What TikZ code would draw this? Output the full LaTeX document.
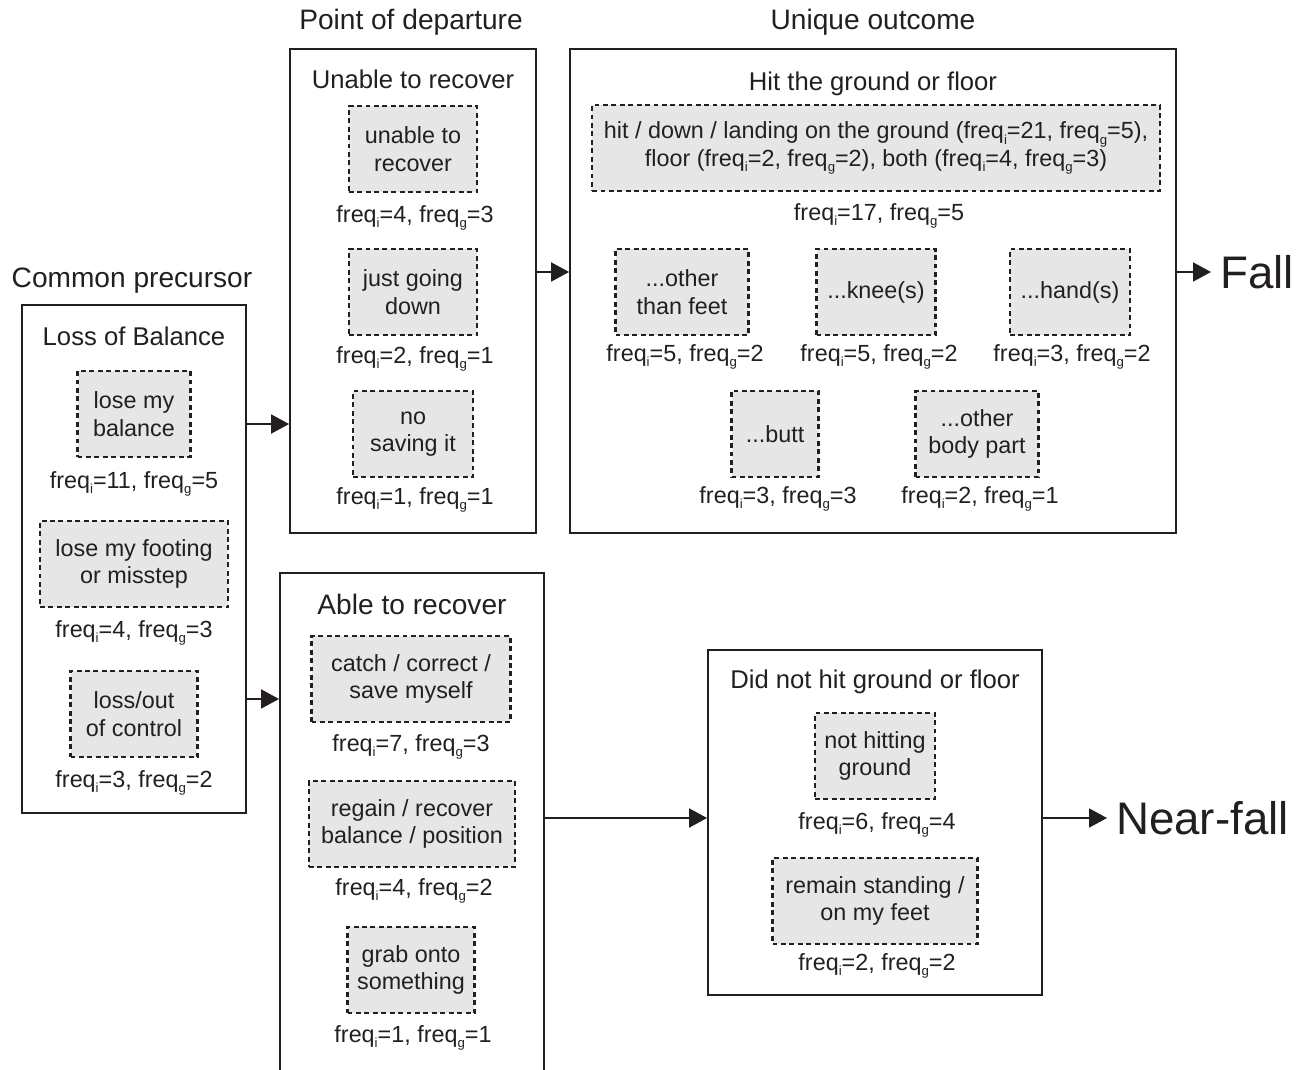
\documentclass[tikz,border=0pt]{standalone}
\usepackage{fontspec}
\setmainfont{Liberation Sans}
\usetikzlibrary{positioning,arrows.meta}
\usepackage{xcolor}
\definecolor{tinta}{HTML}{231F20}
\definecolor{fondo}{HTML}{E6E6E6}
\newcommand{\sub}[1]{\raisebox{-0.45ex}{\fontsize{7.5}{8}\selectfont #1}}
\newcommand{\fq}[2]{freq\sub{i}=#1, freq\sub{g}=#2}

\begin{document}
\begin{tikzpicture}[
    x=0.02cm,y=-0.02cm,
    every node/.style={font=\fontsize{13.3}{15.6}\selectfont,align=center,text=tinta},
    title/.style={font=\fontsize{16}{19}\selectfont},
    head/.style={font=\fontsize{14.6}{17}\selectfont},
    big/.style={font=\fontsize{26}{30}\selectfont,anchor=west,inner sep=0pt,inner xsep=5pt},
    panel/.style={draw=tinta,line width=1.1pt,inner sep=0pt},
    tag/.style={draw=tinta,line width=1.5pt,dash pattern=on 2.8pt off 2pt,fill=fondo,minimum height=1.72cm,inner sep=1pt},
    >={Triangle[length=0.36cm,width=0.38cm]}
  ]
    \useasboundingbox (0,0) rectangle (1310,1070);

    % column titles
    \node[title] (tprec) at (132,281) {Common precursor};
    \node[title] (tdep) at (411,22) {Point of departure};
    \node[title] (tout) at (873,22) {Unique outcome};

    % panels
    \node[panel,minimum width=4.48cm,minimum height=10.16cm] (loss) at (134,559) {};
    \node[panel,minimum width=4.92cm,minimum height=9.68cm] (unable) at (413,291) {};
    \node[panel,minimum width=12.12cm,minimum height=9.68cm] (hit) at (873,291) {};
    \node[panel,minimum width=5.28cm,minimum height=10.34cm] (able) at (412,831.5) {};
    \node[panel,minimum width=6.68cm,minimum height=6.9cm] (nothit) at (875,822.5) {};

    % common precursor
    \node[head] (hloss) at (134,336) {Loss of Balance};
    \node[tag,minimum width=2.26cm] (lose) at (134,414) {lose my\\balance};
    \node (flose) at (134,484) {\fq{11}{5}};
    \node[tag,minimum width=3.76cm] (footing) at (134,564) {lose my footing\\or misstep};
    \node (ffooting) at (134,633) {\fq{4}{3}};
    \node[tag,minimum width=2.54cm] (control) at (134,714) {loss/out\\of control};
    \node (fcontrol) at (134,783) {\fq{3}{2}};

    % unable to recover
    \node[head] (hunable) at (413,79) {Unable to recover};
    \node[tag,minimum width=2.56cm] (recover) at (413,149) {unable to\\recover};
    \node (frecover) at (415,218) {\fq{4}{3}};
    \node[tag,minimum width=2.56cm] (going) at (413,292) {just going\\down};
    \node (fgoing) at (415,359) {\fq{2}{1}};
    \node[tag,minimum width=2.4cm] (saving) at (413,434) {no\\saving it};
    \node (fsaving) at (415,500) {\fq{1}{1}};

    % hit the ground or floor
    \node[head] (hhit) at (873,84) {Hit the ground or floor};
    \node[tag,minimum width=11.36cm] (ground) at (876,148)
      {hit / down / landing on the ground (\fq{21}{5}),\\floor (\fq{2}{2}), both (\fq{4}{3})};
    \node (fground) at (879,216) {\fq{17}{5}};
    \node[tag,minimum width=2.66cm] (feet) at (682,292) {...other\\than feet};
    \node (ffeet) at (685,357) {\fq{5}{2}};
    \node[tag,minimum width=2.38cm] (knee) at (876,292) {...knee(s)};
    \node (fknee) at (879,357) {\fq{5}{2}};
    \node[tag,minimum width=2.4cm] (hand) at (1070,292) {...hand(s)};
    \node (fhand) at (1072,357) {\fq{3}{2}};
    \node[tag,minimum width=1.74cm] (butt) at (775,434) {...butt};
    \node (fbutt) at (778,499) {\fq{3}{3}};
    \node[tag,minimum width=2.46cm] (body) at (977,434) {...other\\body part};
    \node (fbody) at (980,499) {\fq{2}{1}};

    % able to recover
    \node[title] (hable) at (412,604) {Able to recover};
    \node[tag,minimum width=3.98cm] (catch) at (411,679) {catch / correct /\\save myself};
    \node (fcatch) at (411,747) {\fq{7}{3}};
    \node[tag,minimum width=4.12cm] (regain) at (412,824) {regain / recover\\balance / position};
    \node (fregain) at (414,891) {\fq{4}{2}};
    \node[tag,minimum width=2.54cm] (grab) at (411,970) {grab onto\\something};
    \node (fgrab) at (413,1038) {\fq{1}{1}};

    % did not hit ground or floor
    \node[head] (hnothit) at (875,682) {Did not hit ground or floor};
    \node[tag,minimum width=2.4cm] (hitting) at (875,756) {not hitting\\ground};
    \node (fhitting) at (877,825) {\fq{6}{4}};
    \node[tag,minimum width=4.1cm] (standing) at (875,901) {remain standing /\\on my feet};
    \node (fstanding) at (877,966) {\fq{2}{2}};

    % outcomes
    \node[big] (fall) at (1211,272) {Fall};
    \node[big] (nearfall) at (1107,818) {Near-fall};

    % connectors
    \draw[->,line width=1.1pt,tinta] ([yshift=2.7cm]loss.east) -- ([yshift=2.7cm]loss.east -| unable.west);
    \draw[->,line width=1.1pt,tinta] ([yshift=-2.8cm]loss.east) -- ([yshift=-2.8cm]loss.east -| able.west);
    \draw[->,line width=1.1pt,tinta] (unable.east |- fall) -- (hit.west |- fall);
    \draw[->,line width=1.1pt,tinta] (hit.east |- fall) -- (fall.west);
    \draw[->,line width=1.1pt,tinta] (able.east |- nearfall) -- (nothit.west |- nearfall);
    \draw[->,line width=1.1pt,tinta] (nothit.east |- nearfall) -- (nearfall.west);
  \end{tikzpicture}
\end{document}
